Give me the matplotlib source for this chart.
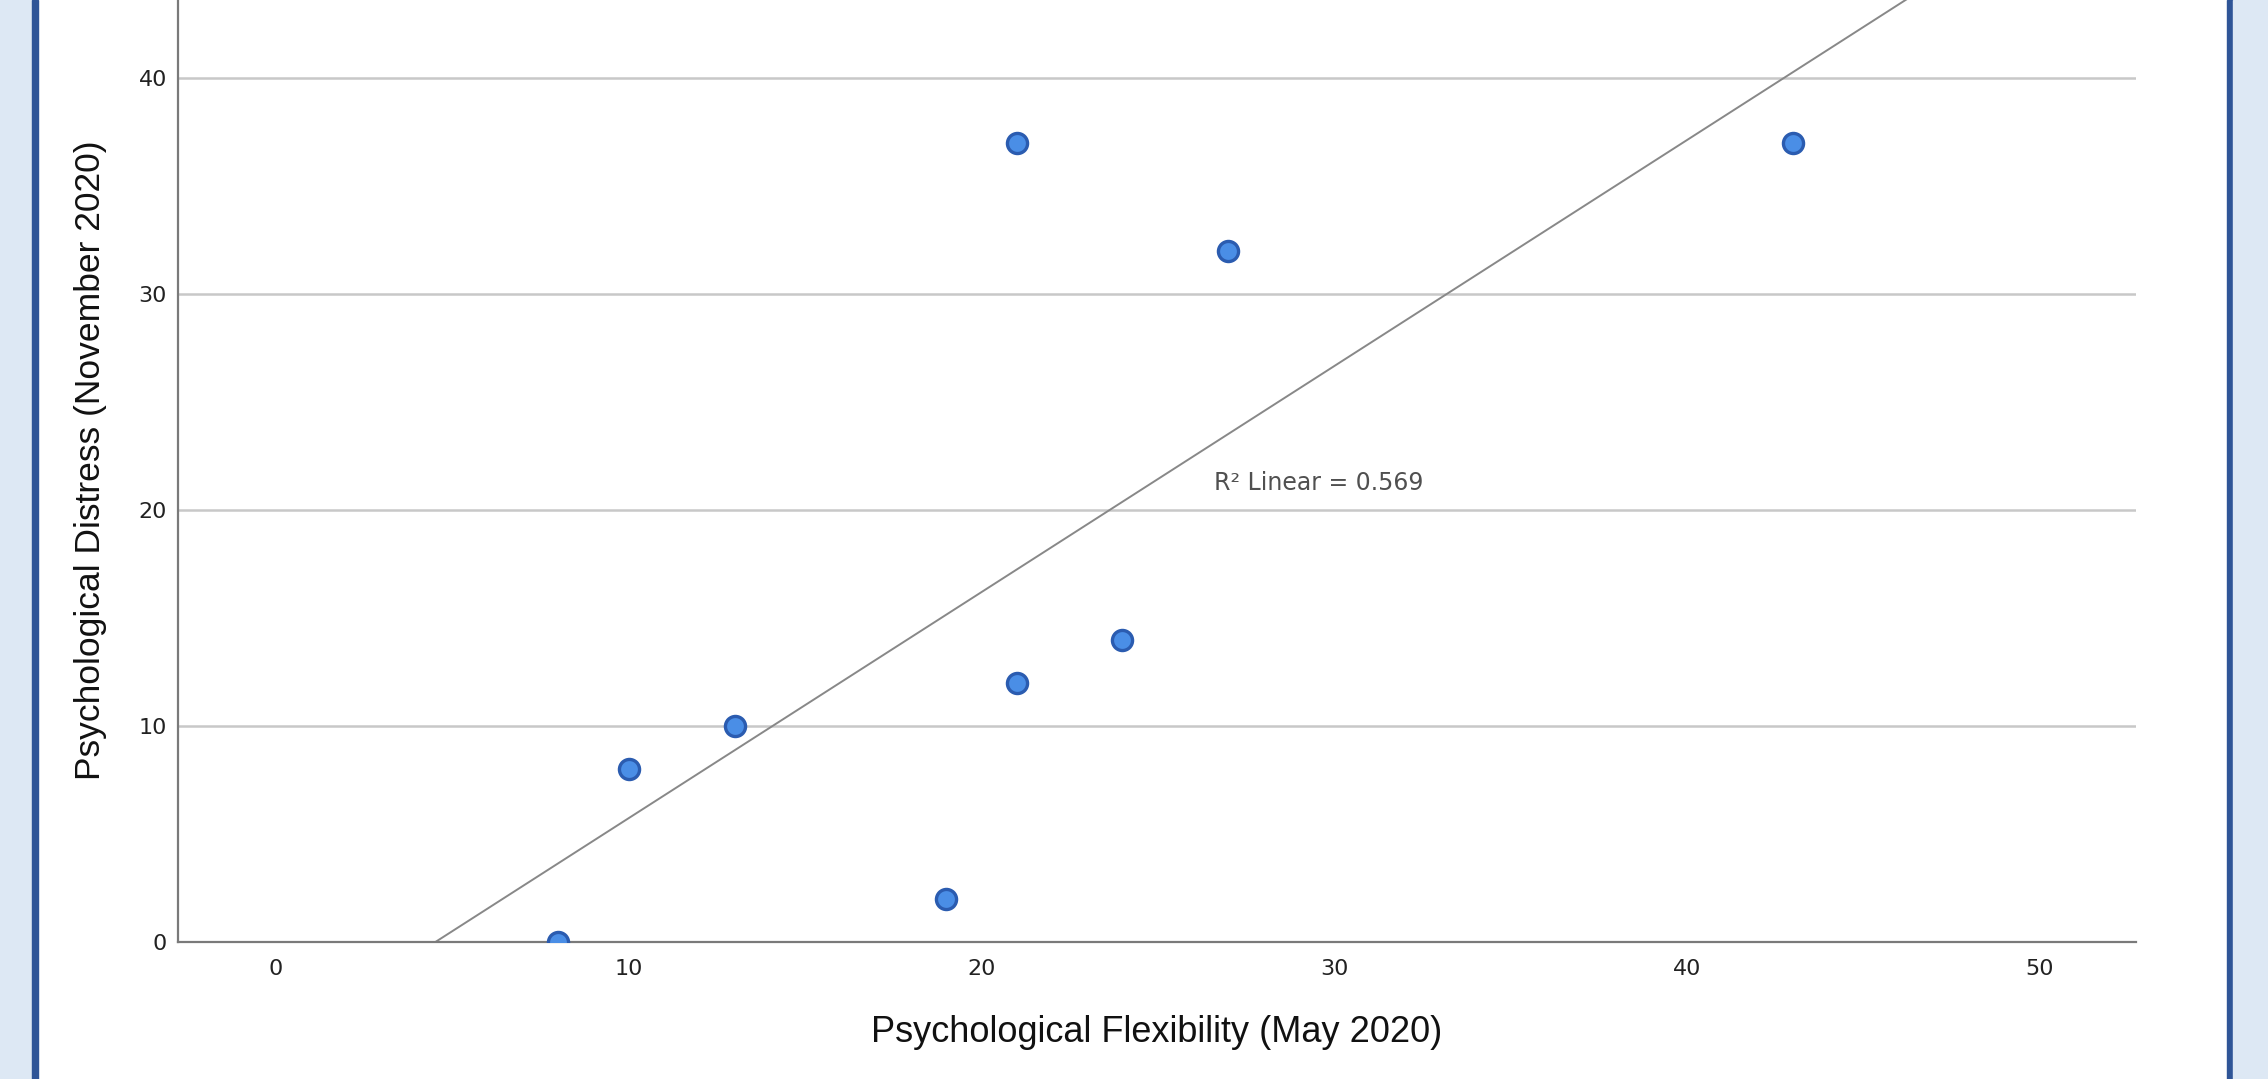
import numpy as np
import matplotlib
matplotlib.use("Agg")
import matplotlib.pyplot as plt
from matplotlib.patches import Rectangle

# Data
flexibility = [8, 10, 13, 19, 21, 21, 24, 27, 43]
distress = [0, 8, 10, 2, 12, 37, 14, 32, 37]
x_ticks = [0, 10, 20, 30, 40, 50]
y_ticks = [0, 10, 20, 30, 40]
x_label = "Psychological Flexibility (May 2020)"
y_label = "Psychological Distress (November 2020)"

W, H = 2268, 1079
fig = plt.figure(figsize=(W / 100, H / 100), dpi=100)
fig.patch.set_facecolor("white")

# outer light-blue bands and dark blue borders
fig.add_artist(Rectangle((0, 0), 32 / W, 1, transform=fig.transFigure, color="#dde8f4", zorder=0))
fig.add_artist(Rectangle((32 / W, 0), 6 / W, 1, transform=fig.transFigure, color="#2f5597", zorder=0))
fig.add_artist(Rectangle((2227 / W, 0), 6 / W, 1, transform=fig.transFigure, color="#2f5597", zorder=0))
fig.add_artist(Rectangle((2233 / W, 0), 35 / W, 1, transform=fig.transFigure, color="#dde8f4", zorder=0))

ax = fig.add_axes([178 / W, (H - 942) / H, (2136 - 178) / W, 942 / H])
ax.set_facecolor("white")
ax.set_xlim(-2.78, 52.74)
ax.set_ylim(0, 43.6)

ax.set_xticks(x_ticks)
ax.set_yticks(y_ticks)
ax.tick_params(axis="both", length=0, labelsize=16, labelcolor="#222222")
ax.tick_params(axis="x", pad=12)
ax.tick_params(axis="y", pad=8)

for s in ["top", "right"]:
    ax.spines[s].set_visible(False)
for s in ["left", "bottom"]:
    ax.spines[s].set_color("#7a7a7a")
    ax.spines[s].set_linewidth(1.6)

ax.yaxis.grid(True, color="#c8c8c8", linewidth=1.8)
ax.set_axisbelow(True)

# Fit line
slope, intercept = np.polyfit(flexibility, distress, 1)
pred = np.polyval([slope, intercept], flexibility)
r2 = 1 - np.sum((np.array(distress) - pred) ** 2) / np.sum((np.array(distress) - np.mean(distress)) ** 2)
xs = np.array(ax.get_xlim())
ax.plot(xs, slope * xs + intercept, color="#888888", linewidth=1.4, zorder=2)

ax.scatter(flexibility, distress, s=210, facecolor="#4a8ee6", edgecolor="#2b5cb0",
           linewidth=2.4, zorder=3, clip_on=True)

ax.text(26.6, 21.25, f"R\u00b2 Linear = {r2:.3f}", fontsize=17, color="#505050",
        va="center", ha="left")

ax.set_xlabel(x_label, fontsize=26, family="Liberation Sans", color="#111111", labelpad=26)
ax.set_ylabel(y_label, fontsize=25.5, family="Liberation Sans", color="#111111", labelpad=23, y=0.511)

fig.savefig("out.png", dpi=100)
